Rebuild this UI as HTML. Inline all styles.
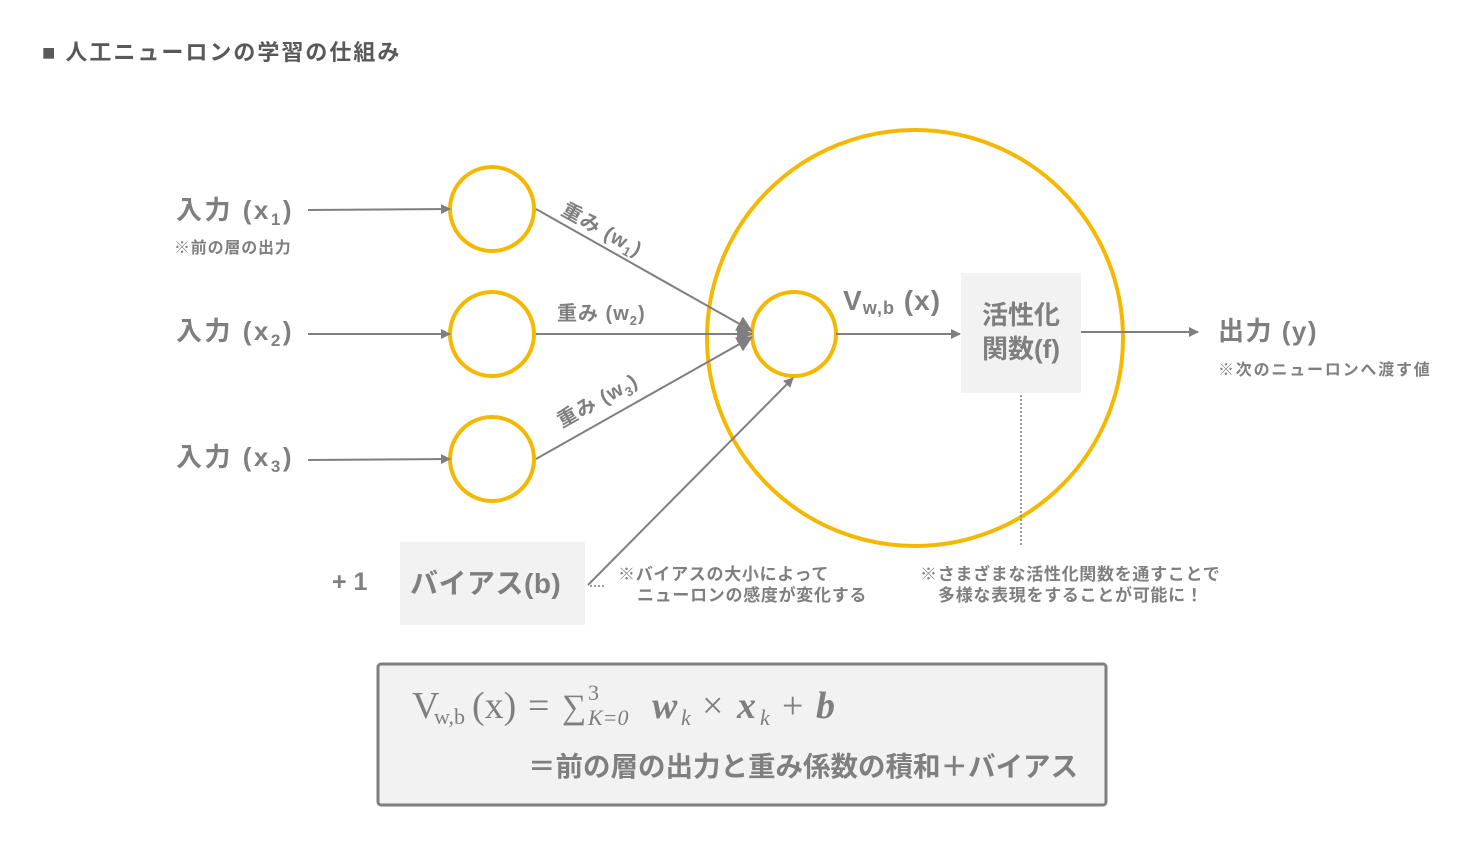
<!DOCTYPE html>
<html><head><meta charset="utf-8"><style>
html,body{margin:0;padding:0;background:#fff;}
svg{display:block}
text{font-family:"Liberation Sans","Noto Sans CJK JP",sans-serif;fill:#7f7f7f;font-weight:bold}
.s{font-family:"Liberation Serif","Noto Serif CJK SC",serif;font-weight:normal}
</style></head><body>
<svg width="1480" height="857" viewBox="0 0 1480 857" xmlns="http://www.w3.org/2000/svg">
<defs>
<marker id="a" markerWidth="10" markerHeight="10" refX="9" refY="5" orient="auto" markerUnits="userSpaceOnUse"><path d="M0,0 L10,5 L0,10 z" fill="#7f7f7f"/></marker>
<marker id="b" markerWidth="16" markerHeight="16" refX="15" refY="8" orient="auto" markerUnits="userSpaceOnUse"><path d="M0,0 L16,8 L0,16 z" fill="#7f7f7f"/></marker>
</defs>
<text x="42" y="60" font-size="22" style="fill:#595959" letter-spacing="2">■ 人工ニューロンの学習の仕組み</text>

<circle cx="915" cy="338" r="208" fill="none" stroke="#f5b800" stroke-width="4"/>
<circle cx="492" cy="209" r="42" fill="none" stroke="#f5b800" stroke-width="4"/>
<circle cx="492" cy="334" r="42" fill="none" stroke="#f5b800" stroke-width="4"/>
<circle cx="492" cy="459" r="42" fill="none" stroke="#f5b800" stroke-width="4"/>
<circle cx="794" cy="334" r="42" fill="none" stroke="#f5b800" stroke-width="4"/>

<g stroke="#7f7f7f" stroke-width="2" fill="none">
<line x1="308" y1="210" x2="450" y2="209" marker-end="url(#a)"/>
<line x1="308" y1="334" x2="450" y2="334" marker-end="url(#a)"/>
<line x1="308" y1="460" x2="450" y2="459" marker-end="url(#a)"/>
<line x1="536" y1="209" x2="752" y2="331" marker-end="url(#b)"/>
<line x1="536" y1="334" x2="752" y2="334" marker-end="url(#b)"/>
<line x1="536" y1="459" x2="752" y2="337" marker-end="url(#b)"/>
<line x1="588" y1="585" x2="793" y2="378" marker-end="url(#a)"/>
<line x1="836" y1="334" x2="960" y2="334" marker-end="url(#a)"/>
<line x1="1081" y1="332" x2="1198" y2="332" marker-end="url(#a)"/>
<line x1="1021" y1="395" x2="1021" y2="547" stroke-dasharray="2,2" stroke-width="1.5"/>
<line x1="590" y1="586" x2="606" y2="586" stroke-dasharray="2,2" stroke-width="1.5"/>
</g>

<rect x="961" y="273" width="120" height="120" fill="#f2f2f2"/>
<text x="1021" y="324" font-size="26" text-anchor="middle">活性化</text>
<text x="1021" y="358" font-size="26" text-anchor="middle">関数(f)</text>

<text x="176" y="219" font-size="26" letter-spacing="2.5">入力 (x<tspan font-size="17" dy="6">1</tspan><tspan dy="-6">)</tspan></text>
<text x="174" y="253" font-size="16" letter-spacing="0.8">※前の層の出力</text>
<text x="176" y="340" font-size="26" letter-spacing="2.5">入力 (x<tspan font-size="17" dy="6">2</tspan><tspan dy="-6">)</tspan></text>
<text x="176" y="466" font-size="26" letter-spacing="2.5">入力 (x<tspan font-size="17" dy="6">3</tspan><tspan dy="-6">)</tspan></text>

<text font-size="20" letter-spacing="1" transform="translate(560,214) rotate(29)">重み (w<tspan font-size="13" dy="5">1</tspan><tspan dy="-5">)</tspan></text>
<text x="557" y="320" font-size="20" letter-spacing="1">重み (w<tspan font-size="13" dy="5">2</tspan><tspan dy="-5">)</tspan></text>
<text font-size="20" letter-spacing="1" transform="translate(562,428) rotate(-29)">重み (w<tspan font-size="13" dy="5">3</tspan><tspan dy="-5">)</tspan></text>

<text x="843" y="310" font-size="28" letter-spacing="1">V<tspan font-size="18" dy="4">w,b</tspan><tspan dy="-4"> (x)</tspan></text>

<text x="1218" y="340" font-size="26" letter-spacing="1.5">出力 (y)</text>
<text x="1218" y="375" font-size="16" letter-spacing="1.8">※次のニューロンへ渡す値</text>

<text x="332" y="590" font-size="25">+ 1</text>
<rect x="400" y="542" width="185" height="83" fill="#f2f2f2"/>
<text x="410" y="593" font-size="28" letter-spacing="0.5">バイアス(b)</text>

<text x="618" y="580" font-size="17" letter-spacing="0.7">※バイアスの大小によって</text>
<text x="637" y="601" font-size="17" letter-spacing="0.7">ニューロンの感度が変化する</text>
<text x="920" y="580" font-size="17" letter-spacing="0.7">※さまざまな活性化関数を通すことで</text>
<text x="938" y="601" font-size="17" letter-spacing="0.7">多様な表現をすることが可能に！</text>

<rect x="378" y="664" width="728" height="141" rx="3" fill="#f2f2f2" stroke="#7f7f7f" stroke-width="3"/>
<g class="s">
<text class="s" x="412" y="718" font-size="38">V</text>
<text class="s" x="434" y="724" font-size="22">w,b</text>
<text class="s" x="472" y="718" font-size="38">(x)</text>
<text class="s" x="528" y="718" font-size="38">=</text>
<text class="s" x="562" y="718" font-size="34">∑</text>
<text class="s" x="588" y="700" font-size="22">3</text>
<text class="s" x="588" y="725" font-size="22" font-style="italic">K=0</text>
<text class="s" x="652" y="718" font-size="38" font-style="italic" style="font-weight:bold">w</text>
<text class="s" x="681" y="725" font-size="22" font-style="italic">k</text>
<text class="s" x="702" y="718" font-size="38">×</text>
<text class="s" x="737" y="718" font-size="38" font-style="italic" style="font-weight:bold">x</text>
<text class="s" x="760" y="725" font-size="22" font-style="italic">k</text>
<text class="s" x="782" y="718" font-size="38">+</text>
<text class="s" x="816" y="718" font-size="38" font-style="italic" style="font-weight:bold">b</text>
</g>
<text x="528" y="776" font-size="27.5">＝前の層の出力と重み係数の積和＋バイアス</text>
</svg>
</body></html>
